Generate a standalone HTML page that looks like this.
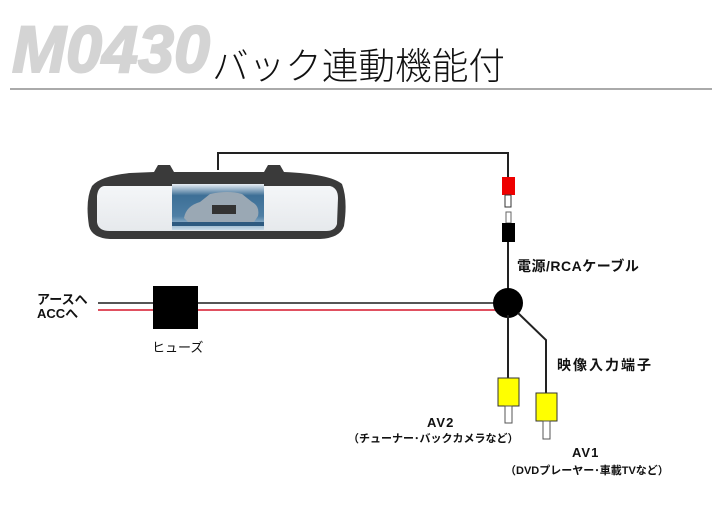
<!DOCTYPE html>
<html><head><meta charset="utf-8"><style>
html,body{margin:0;padding:0;background:#fff;}
svg{display:block;}
text{font-family:"Liberation Sans","Noto Sans CJK JP",sans-serif;}
</style></head><body>
<svg width="718" height="519" viewBox="0 0 718 519" xmlns="http://www.w3.org/2000/svg">
<defs>
<linearGradient id="scr" x1="0" y1="0" x2="0" y2="1">
<stop offset="0" stop-color="#e8eef4"/><stop offset="0.25" stop-color="#3d6f96"/><stop offset="0.7" stop-color="#4e7fa5"/><stop offset="1" stop-color="#c8dbe8"/>
</linearGradient>
<linearGradient id="glass" x1="0" y1="0" x2="0" y2="1">
<stop offset="0" stop-color="#f4f6f8"/><stop offset="1" stop-color="#e6e9ec"/>
</linearGradient>
</defs>
<rect width="718" height="519" fill="#fff"/>
<text x="12" y="72" font-size="66" font-weight="bold" font-style="italic" fill="#d4d4d4" stroke="#d4d4d4" stroke-width="2" textLength="198" lengthAdjust="spacingAndGlyphs">M0430</text>
<text x="212" y="79" font-size="37" fill="#111" font-family="'Noto Sans CJK JP',sans-serif" font-weight="300" textLength="293" lengthAdjust="spacingAndGlyphs">バック連動機能付</text>
<rect x="10" y="88" width="702" height="2" fill="#aaa"/>

<!-- mirror -->
<path d="M154 172 L158 165 L170 165 L174 172 L264 172 L268 165 L280 165 L284 172 Q330 174 342 184 Q348 200 344 226 Q340 238 320 239 L110 239 Q92 238 89 226 Q85 200 92 186 Q100 176 130 173 Z" fill="#3a3a3a"/>
<path d="M104 186 L330 186 Q338 188 338 198 L337 224 Q335 231 326 231 L110 231 Q98 231 97 222 L97 196 Q98 187 104 186 Z" fill="url(#glass)"/>
<rect x="172" y="184" width="92" height="46" fill="url(#scr)"/>
<path d="M184 218 Q186 206 200 202 L210 194 Q228 190 242 194 L252 202 Q260 206 258 216 L254 222 L188 222 Z" fill="#9aa8b4"/>
<rect x="212" y="205" width="24" height="9" fill="#333"/>
<rect x="172" y="222" width="92" height="4" fill="#2d5a80"/>

<!-- top wire -->
<polyline points="218,170 218,153 508,153 508,177" fill="none" stroke="#222" stroke-width="2"/>
<rect x="502" y="177" width="13" height="18" fill="#e00"/>
<rect x="505" y="195" width="6" height="12" fill="#fff" stroke="#333" stroke-width="1"/>
<rect x="506" y="212" width="5" height="11" fill="#fff" stroke="#666" stroke-width="1"/>
<rect x="502" y="223" width="13" height="19" fill="#000"/>
<line x1="508" y1="242" x2="508" y2="295" stroke="#222" stroke-width="2"/>

<!-- horizontal wires -->
<line x1="98" y1="303" x2="500" y2="303" stroke="#555" stroke-width="2"/>
<line x1="98" y1="310" x2="500" y2="310" stroke="#e05060" stroke-width="2"/>
<rect x="153" y="286" width="45" height="43" fill="#000"/>
<circle cx="508" cy="303" r="15" fill="#000"/>

<!-- down wires -->
<line x1="508" y1="315" x2="508" y2="378" stroke="#222" stroke-width="2"/>
<polyline points="518,313 546,340 546,393" fill="none" stroke="#222" stroke-width="2"/>
<rect x="498" y="378" width="21" height="28" fill="#ff0" stroke="#333" stroke-width="1"/>
<rect x="505" y="406" width="7" height="17" fill="#fff" stroke="#555" stroke-width="1"/>
<rect x="536" y="393" width="21" height="28" fill="#ff0" stroke="#333" stroke-width="1"/>
<rect x="543" y="421" width="7" height="18" fill="#fff" stroke="#555" stroke-width="1"/>

<!-- labels -->
<g font-size="13" fill="#111" font-weight="bold">
<text x="37" y="304" font-size="13">アースへ</text>
<text x="37" y="318" font-size="13">ACCへ</text>
<text x="152" y="352" font-size="13" font-weight="normal">ヒューズ</text>
<text x="517" y="271" font-size="14" letter-spacing="0.5">電源/RCAケーブル</text>
<text x="557" y="370" font-size="14" letter-spacing="2">映像入力端子</text>
<text x="427" y="427" font-size="13" letter-spacing="1">AV2</text>
<text x="348" y="442" font-size="11">（チューナー･バックカメラなど）</text>
<text x="572" y="457" font-size="13" letter-spacing="1">AV1</text>
<text x="505" y="474" font-size="11">（DVDプレーヤー･車載TVなど）</text>
</g>
</svg>
</body></html>
